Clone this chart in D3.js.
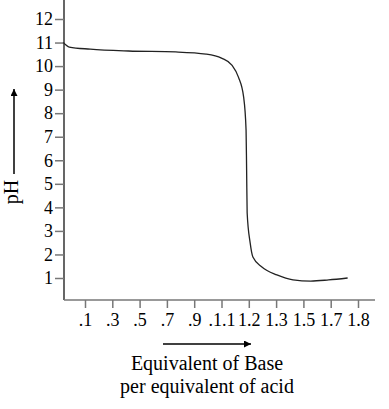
<!DOCTYPE html>
<html>
<head>
<meta charset="utf-8">
<script src="https://cdn.jsdelivr.net/npm/d3@7"></script>
<style>
  body { margin: 0; background: #fff; }
  text { font-family: "Liberation Serif", "Times New Roman", serif; }
</style>
</head>
<body>
<div id="chart"></div>
<script>
/* Titration curve: pH vs equivalents of base */

const xTickLabels = [".1", ".3", ".5", ".7", ".9", ".1.1", "1.2", "1.3", "1.5", "1.7", "1.8"];
const xTickValues = [0.1, 0.3, 0.5, 0.7, 0.9, 1.1, 1.2, 1.3, 1.5, 1.7, 1.8];
const pHTicks = [1, 2, 3, 4, 5, 6, 7, 8, 9, 10, 11, 12];

// curve
const equiv = [-0.06, -0.015, 0.138, 0.419, 0.764, 0.987, 1.1, 1.138, 1.162, 1.181, 1.19, 1.192, 1.194, 1.205, 1.215, 1.248, 1.306, 1.424, 1.554, 1.685, 1.762];
const pH    = [11.0, 10.81, 10.72, 10.64, 10.6, 10.51, 10.34, 10.04, 9.53, 8.69, 7.28, 5.59, 3.76, 2.49, 1.89, 1.47, 1.13, 0.92, 0.87, 0.92, 1.0];

const width = 389,
      height = 409,
      margin = ({ top: 0, right: 14, bottom: 109, left: 64 });

let svg = d3.select("#chart")
            .append("svg")
            .attr("width", width)
            .attr("height", height);

// tick labels are evenly spaced even though the values are not
const xPoint = d3.scalePoint()
            .domain(xTickLabels)
            .range([85, 358]);

const x = d3.scaleLinear()
            .domain(xTickValues)
            .range(xTickLabels.map(l => xPoint(l)));

const y = d3.scaleLinear()
            .domain([1, 12])
            .range([278, 19]);

const axisY = height - margin.bottom;

// axis lines
svg.append("line")
    .attr("x1", margin.left).attr("x2", margin.left)
    .attr("y1", margin.top).attr("y2", axisY)
    .attr("stroke", "#000").attr("stroke-width", 1.2);

svg.append("line")
    .attr("x1", margin.left).attr("x2", width - margin.right)
    .attr("y1", axisY).attr("y2", axisY)
    .attr("stroke", "#777").attr("stroke-width", 1.5);

const yAxis = g => g
    .attr("transform", `translate(${margin.left},0)`)
    .call(d3.axisLeft(y).tickValues(pHTicks).tickFormat(d3.format("d")).tickSize(9).tickPadding(2))
    .call(g => g.select(".domain").remove());

const xAxis = g => g
    .attr("transform", `translate(0,${axisY})`)
    .call(d3.axisBottom(xPoint).tickSize(8).tickPadding(5))
    .call(g => g.select(".domain").remove());

svg.append("g").call(yAxis);
svg.append("g").call(xAxis);

svg.selectAll(".tick line").attr("stroke", "#777").attr("stroke-width", 1.5);
svg.selectAll(".tick text")
    .attr("fill", "#000")
    .style("font-size", "18px")
    .style("font-family", "'Liberation Serif', serif");

// the curve
const line = d3.line()
    .x((d, i) => x(equiv[i]))
    .y((d, i) => y(pH[i]))
    .curve(d3.curveMonotoneX);

svg.append("path")
    .attr("d", line(equiv))
    .attr("fill", "none")
    .attr("stroke", "#222")
    .attr("stroke-width", 1.3);

// arrows
svg.append("defs").append("marker")
    .attr("id", "arrow")
    .attr("viewBox", "0 0 10 10")
    .attr("refX", 10).attr("refY", 5)
    .attr("markerWidth", 9).attr("markerHeight", 7)
    .attr("markerUnits", "userSpaceOnUse")
    .attr("orient", "auto")
    .append("path")
    .attr("d", "M0,0L10,5L0,10Z")
    .attr("fill", "#000");

svg.append("line")
    .attr("x1", 14).attr("x2", 14)
    .attr("y1", 174).attr("y2", 89)
    .attr("stroke", "#000").attr("stroke-width", 1.5)
    .attr("marker-end", "url(#arrow)");

svg.append("line")
    .attr("x1", 163).attr("x2", 251)
    .attr("y1", 344).attr("y2", 344)
    .attr("stroke", "#000").attr("stroke-width", 1.5)
    .attr("marker-end", "url(#arrow)");

// labels
svg.append("text")
    .attr("transform", "translate(18,192) rotate(-90)")
    .attr("text-anchor", "middle")
    .style("font-size", "20px")
    .text("pH");

svg.append("text")
    .attr("x", 207).attr("y", 370)
    .attr("text-anchor", "middle")
    .style("font-size", "20px")
    .text("Equivalent of Base");

svg.append("text")
    .attr("x", 207).attr("y", 393)
    .attr("text-anchor", "middle")
    .style("font-size", "20px")
    .text("per equivalent of acid");
</script>
</body>
</html>
